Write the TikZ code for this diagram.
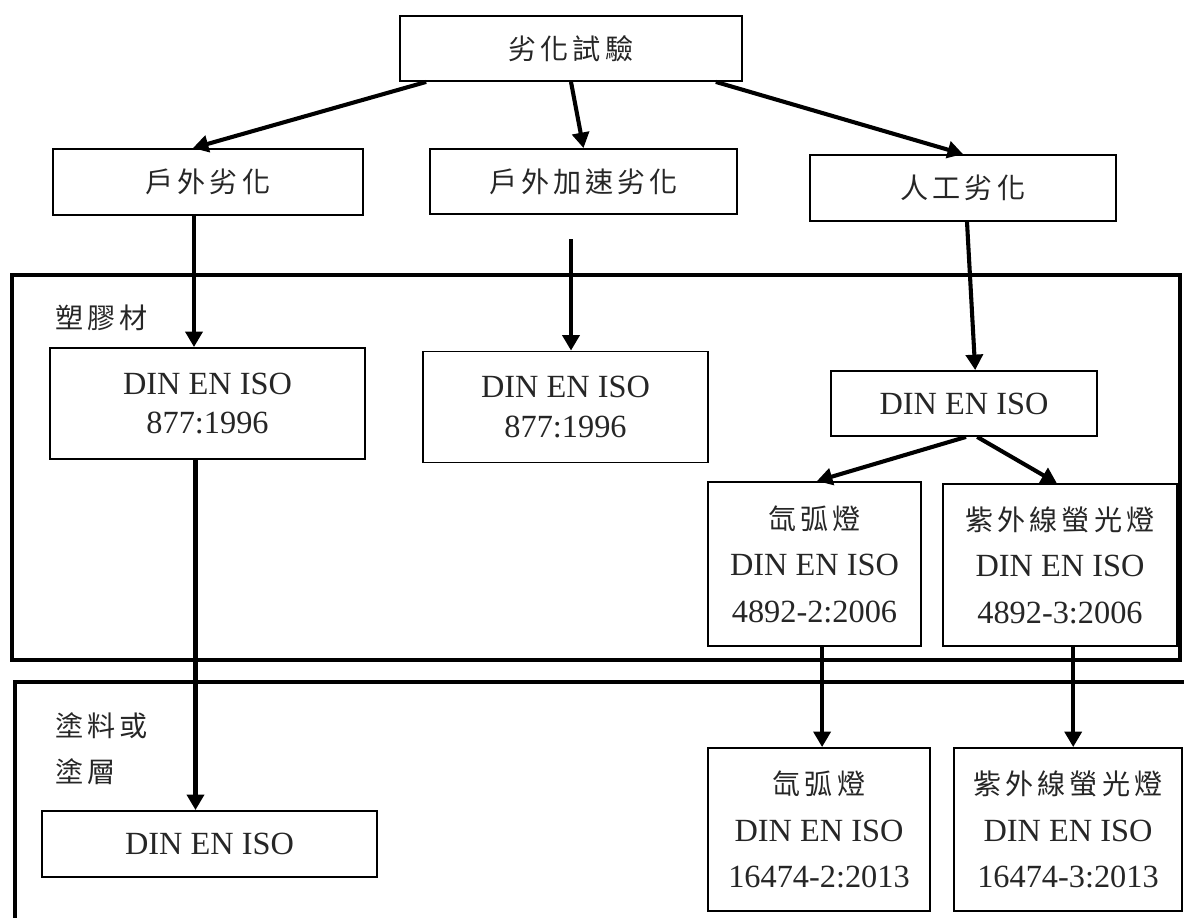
\documentclass[tikz,border=0pt]{standalone}
\usepackage{fontspec}
\setmainfont{Liberation Serif}
\newfontfamily\zhfont[LetterSpace=14]{Noto Sans CJK TC}
\usetikzlibrary{arrows.meta}
\newcommand{\zh}[1]{{\zhfont\fontsize{20}{33}\selectfont #1}}
\tikzset{
  stdbox/.style={
    rectangle, draw, line width=1.3pt, inner sep=0pt, align=center,
    text=black!85, font=\fontsize{23}{33}\selectfont
  },
  groupframe/.style={line width=2.9pt},
  grouplabel/.style={inner sep=0pt, align=left, text=black!85, font=\fontsize{20}{33}\selectfont},
  arrow/.style={-{Triangle[length=11pt,width=12pt]}, line width=2.9pt}
}
\begin{document}
\begin{tikzpicture}[x=0.025cm, y=-0.025cm]
    \useasboundingbox (0,0) rectangle (1184,917);
    % material groups
    \draw[groupframe] (12,275) rectangle (1180,660);
    \draw[groupframe] (15,930) -- (15,682) -- (1190,682);

    % test kinds
    \node[stdbox, minimum width=8.55cm, minimum height=1.625cm] (test) at (571,48.5) {\zh{劣化試驗}};
    \node[stdbox, minimum width=7.75cm, minimum height=1.65cm] (outdoor) at (208,182) {\zh{戶外劣化}};
    \node[stdbox, minimum width=7.675cm, minimum height=1.625cm] (accel) at (583.5,181.5) {\zh{戶外加速劣化}};
    \node[stdbox, minimum width=7.65cm, minimum height=1.65cm] (artificial) at (963,188) {\zh{人工劣化}};

    % plastics
    \node[grouplabel, anchor=west] (plasticlbl) at (55,318) {\zh{塑膠材}};
    \node[stdbox, font=\fontsize{23}{28}\selectfont, minimum width=7.875cm, minimum height=2.775cm] (pOut) at (207.5,403.5) {DIN EN ISO\\877:1996};
    \node[stdbox, font=\fontsize{23}{28}\selectfont, minimum width=7.125cm, minimum height=2.775cm] (pAcc) at (565.5,407) {DIN EN ISO\\877:1996};
    \node[stdbox, minimum width=6.65cm, minimum height=1.625cm] (pArt) at (964,403.5) {DIN EN ISO};
    \node[stdbox, minimum width=5.325cm, minimum height=4.1cm] (pXenon) at (814.5,564) {\zh{氙弧燈}\\DIN EN ISO\\4892-2:2006};
    \node[stdbox, minimum width=5.85cm, minimum height=4.05cm] (pUV) at (1060,565) {\zh{紫外線螢光燈}\\DIN EN ISO\\4892-3:2006};

    % coatings
    \node[grouplabel, anchor=north west] (coatlbl) at (55,712) {\zh{塗料或}\\\zh{塗層}};
    \node[stdbox, minimum width=8.375cm, minimum height=1.65cm] (cOut) at (209.5,844) {DIN EN ISO};
    \node[stdbox, minimum width=5.55cm, minimum height=4.075cm] (cXenon) at (819,829.5) {\zh{氙弧燈}\\DIN EN ISO\\16474-2:2013};
    \node[stdbox, minimum width=5.7cm, minimum height=4.075cm] (cUV) at (1068,829.5) {\zh{紫外線螢光燈}\\DIN EN ISO\\16474-3:2013};

    \coordinate (outS) at ([xshift=-0.35cm]outdoor.south);
    \coordinate (accS) at (571,239);
    \coordinate (pOutS) at ([xshift=-0.3cm]pOut.south);
    \coordinate (xenS) at ([xshift=0.19cm]pXenon.south);
    \coordinate (uvS) at ([xshift=0.33cm]pUV.south);

    \draw[arrow] (test.193) -- (outdoor.114);
    \draw[arrow] (test.south) -- (accel.north);
    \draw[arrow] (test.347) -- (artificial.north);
    \draw[arrow] (outS) -- (outS |- pOut.north);
    \draw[arrow] (accS) -- (accS |- pAcc.north);
    \draw[arrow] ([xshift=0.1cm]artificial.south) -- ([xshift=0.28cm]pArt.north);
    \draw[arrow] ([xshift=0.05cm]pArt.south) -- ([xshift=0.06cm]pXenon.north);
    \draw[arrow] ([xshift=0.33cm]pArt.south) -- ([xshift=-0.08cm]pUV.north);
    \draw[arrow] (pOutS) -- (pOutS |- cOut.north);
    \draw[arrow] (xenS) -- (xenS |- cXenon.north);
    \draw[arrow] (uvS) -- (uvS |- cUV.north);
  \end{tikzpicture}
\end{document}
